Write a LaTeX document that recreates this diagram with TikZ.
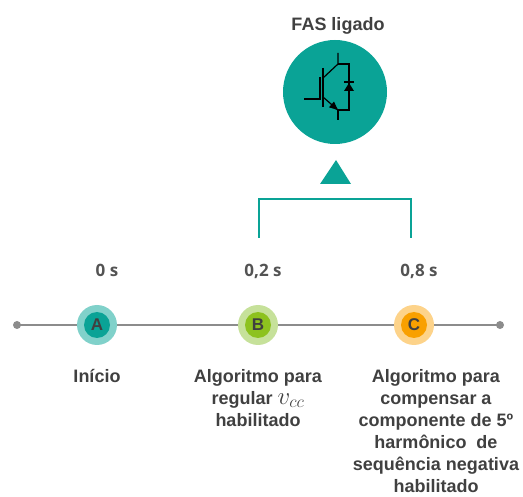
\documentclass[tikz,border=0pt]{standalone}
\usepackage{fontspec}
\setmainfont{Liberation Sans}
\newfontfamily\timefont{Open Sans}
\usepackage{tikz}
\usetikzlibrary{arrows.meta}
\definecolor{fasteal}{HTML}{0AA396}
\definecolor{fastealL}{HTML}{80D1CA}
\definecolor{fasgreen}{HTML}{8DC21F}
\definecolor{fasgreenL}{HTML}{C6E19A}
\definecolor{fasorange}{HTML}{F9A000}
\definecolor{fasorangeL}{HTML}{FDD38A}
\definecolor{txtgray}{HTML}{404040}
\definecolor{linegray}{HTML}{8C8C8C}
\newcommand{\lbl}{\fontsize{18}{22}\selectfont\bfseries}
\newcommand{\tmark}[4]{%
  \fill[#3] (#1) circle (20);
  \fill[#2] (#1) circle (13);
  \node[font=\fontsize{17}{17}\selectfont\bfseries,text=txtgray] at (#1) {#4};}

\begin{document}
\begin{tikzpicture}[x=1pt,y=-1pt,
  txt/.style={text=txtgray,font=\lbl,align=center,anchor=north,inner sep=0},
  tm/.style={text=txtgray!90,font=\timefont\fontsize{17}{17}\selectfont\bfseries,anchor=base}]
\useasboundingbox (0,0) rectangle (523,497);
%timeline
\fill[linegray] (17,325) circle (4) coordinate (t0);
\fill[linegray] (500,325) circle (4) coordinate (t1);
\draw[linegray,line width=2] (t0) -- (t1);
\coordinate (A) at (97,325);
\coordinate (B) at (258,325);
\coordinate (C) at (414,325);
\tmark{A}{fasteal}{fastealL}{A}
\tmark{B}{fasgreen}{fasgreenL}{B}
\tmark{C}{fasorange}{fasorangeL}{C}
\node[tm] (tA) at (107,277) {0 s};
\node[tm] (tB) at (263,277) {0,2 s};
\node[tm] (tC) at (419,277) {0,8 s};
\node[txt] (dA) at (97,369) {Início};
\node[txt] (dB) at (258,369) {Algoritmo para\\regular {\fontsize{23}{22}\selectfont$v_{cc}$}\\habilitado};
\node[txt] (dC) at (436,369) {Algoritmo para\\compensar a\\componente de 5º\\harmônico\ \ de\\sequência negativa\\habilitado};
%FAS on
\draw[fasteal,line width=1.5] (259,238) coordinate (bl) -- (259,199) -- (411,199) -- (411,238) coordinate (br);
\fill[fasteal] (336,160) coordinate (ap) -- (320,184) -- (351,184) -- cycle;
\fill[fasteal] (335,92) circle (52) coordinate (fas);
\node[txt,anchor=base] (fasl) at (338,31) {FAS ligado};
%igbt
\begin{scope}[line width=1.2]
\draw (304,99) -- (320,99) -- (320,77);
\draw (323,68) -- (323,107);
\draw (323,78) -- (338,64) -- (338,53);
\draw (338,64) -- (349,64) -- (349,110) -- (338,110) -- (338,120);
\draw[-{Latex[length=3.5mm,width=2.8mm]}] (323,97) -- (339,111);
\fill (344,91) -- (354,91) -- (349,83) -- cycle;
\draw (344,82) -- (354,82);
\end{scope}
\end{tikzpicture}
\end{document}
